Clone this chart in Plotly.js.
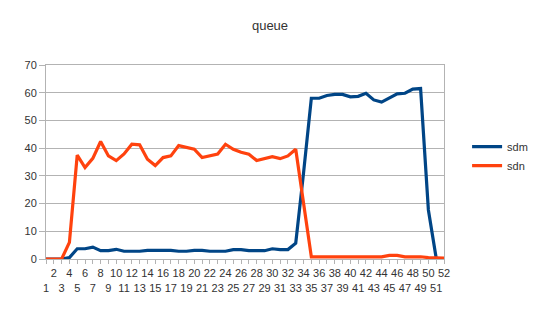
<!DOCTYPE html>
<html>
<head>
<meta charset="utf-8">
<script src="https://cdn.plot.ly/plotly-3.0.1.min.js"></script>
<style>html,body{margin:0;padding:0;background:#fff}#chart{width:540px;height:316px}</style>
</head>
<body>
<div id="chart"></div>
<script>
var categories = [1,2,3,4,5,6,7,8,9,10,11,12,13,14,15,16,17,18,19,20,21,22,23,24,25,26,27,28,29,30,31,32,33,34,35,36,37,38,39,40,41,42,43,44,45,46,47,48,49,50,51,52];
var sdm = [0,0,0,0.5,3.7,3.7,4.3,3,3,3.5,2.8,2.8,2.8,3.1,3.1,3.1,3.1,2.8,2.8,3.1,3.1,2.8,2.8,2.8,3.4,3.4,3,3,3,3.7,3.4,3.4,5.7,31,58,58,59,59.4,59.4,58.5,58.7,59.8,57.4,56.6,58,59.6,59.8,61.3,61.5,17.7,0.3,null];
var sdn = [0,0,0,6,37.5,33,36.3,42.4,37.2,35.5,37.9,41.4,41.2,36,33.7,36.6,37.2,40.9,40.3,39.6,36.6,37.2,37.9,41.4,39.6,38.5,37.8,35.5,36.1,36.9,36.2,37.2,39.6,20,0.8,0.8,0.8,0.8,0.8,0.8,0.8,0.8,0.8,0.8,1.3,1.3,0.8,0.8,0.8,0.5,0.3,0.3];
var yTicks = [0,10,20,30,40,50,60,70];

var tickText = categories.map(function(c){ return (c % 2 === 0) ? String(c) : '<br>' + c; });

var font = 'Liberation Sans, Arial, sans-serif';
var data = [
  {x: categories, y: sdm, name: 'sdm', type: 'scatter', mode: 'lines',
   line: {color: '#004586', width: 3.2}},
  {x: categories, y: sdn, name: 'sdn', type: 'scatter', mode: 'lines',
   line: {color: '#ff420e', width: 3.2}}
];
var layout = {
  width: 540, height: 316,
  margin: {l: 46, r: 96, t: 65, b: 57, autoexpand: false},
  paper_bgcolor: '#ffffff', plot_bgcolor: '#ffffff',
  font: {family: font, size: 11, color: '#333333'},
  title: {text: 'queue', x: 0.5, xanchor: 'center', y: 0.92, yanchor: 'middle',
          font: {family: font, size: 13, color: '#333333'}},
  showlegend: true,
  legend: {x: 1.058, xanchor: 'left', y: 0.53, yanchor: 'middle',
           font: {family: font, size: 11, color: '#333333'},
           itemwidth: 30, tracegroupgap: 0, bgcolor: 'rgba(0,0,0,0)'},
  xaxis: {
    range: [1, 52], tickmode: 'array', tickvals: categories, ticktext: tickText,
    tickangle: 0, ticks: 'outside', ticklen: 4, tickcolor: '#b3b3b3',
    showline: true, linecolor: '#b3b3b3', mirror: true, showgrid: false,
    zeroline: false, automargin: false, tickfont: {family: font, size: 11, color: '#333333'}
  },
  yaxis: {
    range: [0, 70], tickmode: 'array', tickvals: yTicks,
    ticks: 'outside', ticklen: 6, tickcolor: '#b3b3b3',
    showline: true, linecolor: '#b3b3b3', mirror: true, automargin: false,
    showgrid: true, gridcolor: '#b3b3b3', gridwidth: 1, zeroline: false,
    tickfont: {family: font, size: 11, color: '#333333'}
  }
};
Plotly.newPlot('chart', data, layout, {displayModeBar: false, staticPlot: true});
</script>
</body>
</html>
